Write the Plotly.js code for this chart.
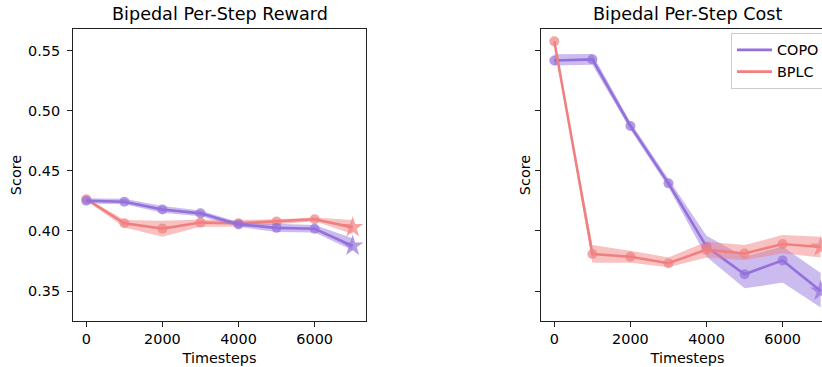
<!DOCTYPE html>
<html>
<head>
<meta charset="utf-8">
<script src="https://cdn.plot.ly/plotly-3.0.1.min.js"></script>
<style>
html, body { margin: 0; padding: 0; overflow: hidden; background: #fff; }
#chart { width: 900px; height: 367px; }
</style>
</head>
<body>
<div id="chart"></div>
<script>
// ---- data ----
const timesteps = [0, 1000, 2000, 3000, 4000, 5000, 6000, 7000];

const copoReward   = [0.4252, 0.4243, 0.4179, 0.4147, 0.4055, 0.4026, 0.4019, 0.3875];
const copoRewardLo = [0.4230, 0.4222, 0.4152, 0.4122, 0.4035, 0.3992, 0.3988, 0.3840];
const copoRewardHi = [0.4272, 0.4268, 0.4208, 0.4170, 0.4072, 0.4058, 0.4050, 0.3940];

const bplcReward   = [0.4265, 0.4064, 0.4020, 0.4070, 0.4065, 0.4080, 0.4098, 0.4030];
const bplcRewardLo = [0.4255, 0.4030, 0.3953, 0.4035, 0.4035, 0.4055, 0.4082, 0.3975];
const bplcRewardHi = [0.4275, 0.4092, 0.4085, 0.4095, 0.4092, 0.4098, 0.4112, 0.4092];

const copoCost   = [0.5420, 0.5430, 0.4875, 0.4397, 0.3869, 0.3640, 0.3755, 0.3500];
const copoCostLo = [0.5378, 0.5385, 0.4845, 0.4365, 0.3785, 0.3522, 0.3570, 0.3362];
const copoCostHi = [0.5472, 0.5475, 0.4905, 0.4430, 0.3960, 0.3785, 0.3870, 0.3650];

const bplcCost   = [0.5580, 0.3808, 0.3786, 0.3731, 0.3845, 0.3812, 0.3892, 0.3867];
const bplcCostLo = [0.5570, 0.3736, 0.3735, 0.3697, 0.3780, 0.3758, 0.3814, 0.3780];
const bplcCostHi = [0.5590, 0.3883, 0.3836, 0.3780, 0.3910, 0.3883, 0.3967, 0.3953];

const seriesNames = ['COPO', 'BPLC'];
const xTicks = [0, 2000, 4000, 6000];
const yTicks = [0.35, 0.40, 0.45, 0.50, 0.55];
const titles = ['Bipedal Per-Step Reward', 'Bipedal Per-Step Cost'];

// ---- styling ----
const COPO_COLOR = 'rgb(147,112,219)';
const BPLC_COLOR = 'rgb(240,128,128)';
const COPO_FILL = 'rgba(147,112,219,0.48)';
const BPLC_FILL = 'rgba(240,128,128,0.48)';
const FONT = 'DejaVu Sans, sans-serif';
const FS = 14.4;
const W = 900, H = 367;

function band(xa, ya, lo, hi, fill) {
  return [
    {x: timesteps, y: lo, xaxis: xa, yaxis: ya, mode: 'lines', line: {width: 0, color: fill},
     showlegend: false, hoverinfo: 'skip'},
    {x: timesteps, y: hi, xaxis: xa, yaxis: ya, mode: 'lines', line: {width: 0, color: fill},
     fill: 'tonexty', fillcolor: fill, showlegend: false, hoverinfo: 'skip'}
  ];
}
function series(xa, ya, vals, color) {
  const syms = vals.map((v, i) => i === vals.length - 1 ? 'star' : 'circle');
  const sizes = vals.map((v, i) => i === vals.length - 1 ? 16 : 10);
  return {x: timesteps, y: vals, xaxis: xa, yaxis: ya, mode: 'lines+markers',
    line: {color: color, width: 2.6},
    marker: {color: color, symbol: syms, size: sizes, line: {width: 0}},
    showlegend: false};
}

const traces = [
  ...band('x', 'y', bplcRewardLo, bplcRewardHi, BPLC_FILL),
  series('x', 'y', bplcReward, BPLC_COLOR),
  ...band('x', 'y', copoRewardLo, copoRewardHi, COPO_FILL),
  series('x', 'y', copoReward, COPO_COLOR),
  ...band('x2', 'y2', copoCostLo, copoCostHi, COPO_FILL),
  series('x2', 'y2', copoCost, COPO_COLOR),
  ...band('x2', 'y2', bplcCostLo, bplcCostHi, BPLC_FILL),
  series('x2', 'y2', bplcCost, BPLC_COLOR),
  {x: [null], y: [null], xaxis: 'x2', yaxis: 'y2', mode: 'lines', name: seriesNames[0],
   line: {color: COPO_COLOR, width: 2.6}, showlegend: true},
  {x: [null], y: [null], xaxis: 'x2', yaxis: 'y2', mode: 'lines', name: seriesNames[1],
   line: {color: BPLC_COLOR, width: 2.6}, showlegend: true}
];

const yDom = [(H - 321) / H, (H - 29) / H];
function xax(dom) {
  return {domain: dom, range: [-350, 7350], tickvals: xTicks, ticks: 'outside', ticklen: 5,
    tickwidth: 1, tickcolor: '#222', showline: true, linecolor: '#222', linewidth: 1, mirror: true,
    showgrid: false, zeroline: false, tickfont: {family: FONT, size: FS, color: '#000'},
    title: {text: 'Timesteps', font: {family: FONT, size: FS, color: '#000'}, standoff: 6}};
}
function yax(dom, labels) {
  return {domain: dom, range: [0.325, 0.5683], tickvals: yTicks, tickformat: '.2f', ticks: 'outside',
    ticklen: 5, tickwidth: 1, tickcolor: '#222', showline: true, linecolor: '#222', linewidth: 1,
    mirror: true, showgrid: false, zeroline: false, showticklabels: labels, ticklabelstandoff: 4,
    tickfont: {family: FONT, size: FS, color: '#000'},
    title: {text: 'Score', font: {family: FONT, size: FS, color: '#000'}, standoff: labels ? 3 : 0}};
}

const layout = {
  width: W, height: H,
  margin: {l: 0, r: 0, t: 0, b: 0},
  paper_bgcolor: '#fff', plot_bgcolor: '#fff',
  font: {family: FONT, color: '#000'},
  xaxis: xax([73 / W, 366 / W]),
  yaxis: yax(yDom, true),
  xaxis2: xax([541 / W, 834 / W]),
  yaxis2: Object.assign(yax(yDom, false), {anchor: 'x2', matches: 'y'}),
  showlegend: true,
  legend: {x: 731 / W, y: (H - 33) / H, xanchor: 'left', yanchor: 'top', traceorder: 'normal',
    itemwidth: 35,
    bordercolor: '#ccc', borderwidth: 1, bgcolor: 'rgba(255,255,255,0.8)',
    font: {family: FONT, size: FS, color: '#000'}},
  annotations: [
    {text: titles[0], xref: 'paper', yref: 'paper', x: 219.5 / W, y: (H - 14) / H,
     xanchor: 'center', yanchor: 'middle', showarrow: false, font: {family: FONT, size: 17.6, color: '#000'}},
    {text: titles[1], xref: 'paper', yref: 'paper', x: 687.5 / W, y: (H - 14) / H,
     xanchor: 'center', yanchor: 'middle', showarrow: false, font: {family: FONT, size: 17.6, color: '#000'}}
  ]
};
layout.xaxis.anchor = 'y';
layout.xaxis2.anchor = 'y2';
layout.yaxis.anchor = 'x';

Plotly.newPlot('chart', traces, layout, {staticPlot: true, displayModeBar: false});
</script>
</body>
</html>
